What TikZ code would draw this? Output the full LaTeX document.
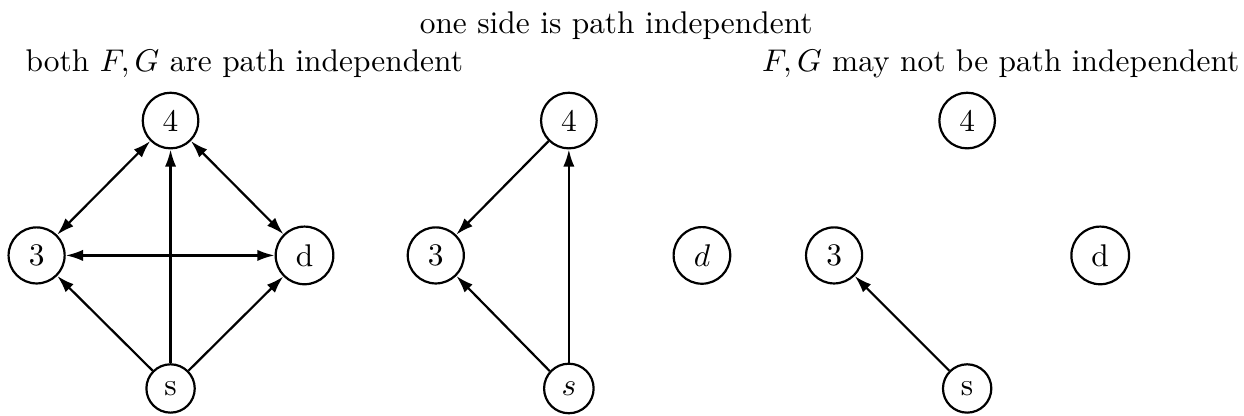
\documentclass[tikz,border=0pt]{standalone}
\usetikzlibrary{arrows.meta}
\begin{document}
\begin{tikzpicture}[
  vert/.style={circle,draw,line width=0.7pt,inner sep=3.33pt},
  edge/.style={line width=0.7pt,-{Latex[length=5.5pt,width=3.6pt]}},
  bedge/.style={line width=0.7pt,{Latex[length=5.5pt,width=3.6pt]}-{Latex[length=5.5pt,width=3.6pt]}},
  lbl/.style={inner sep=0pt,font=\fontsize{10pt}{12pt}\selectfont}
]
\useasboundingbox (0,0) rectangle (13.93,-4.658);
% headings
\node[lbl,anchor=base] (h1) at (6.90,-0.370) {one side is path independent};
\node[lbl,anchor=base west] (h2) at (0.28,-0.806) {both $F,G$ are path independent};
\node[lbl,anchor=base east] (h3) at (13.886,-0.806) {$F,G$ may not be path independent};
% graph 1
\node[vert] (a4) at (1.91,-1.35) {4};
\node[vert] (a3) at (0.41,-2.86) {3};
\node[vert] (ad) at (3.41,-2.86) {d};
\node[vert] (as) at (1.91,-4.35) {s};
\draw[bedge] (a3) -- (a4);
\draw[bedge] (a4) -- (ad);
\draw[bedge] (a3) -- (ad);
\draw[edge] (as) -- (a3);
\draw[edge] (as) -- (a4);
\draw[edge] (as) -- (ad);
% graph 2
\node[vert] (b4) at (6.37,-1.35) {4};
\node[vert] (b3) at (4.88,-2.86) {3};
\node[vert] (bd) at (7.86,-2.86) {$d$};
\node[vert] (bs) at (6.37,-4.35) {$s$};
\draw[edge] (b4) -- (b3);
\draw[edge] (bs) -- (b3);
\draw[edge] (bs) -- (b4);
% graph 3
\node[vert] (c4) at (10.83,-1.35) {4};
\node[vert] (c3) at (9.34,-2.86) {3};
\node[vert] (cd) at (12.32,-2.86) {d};
\node[vert] (cs) at (10.83,-4.35) {s};
\draw[edge] (cs) -- (c3);
\end{tikzpicture}
\end{document}
